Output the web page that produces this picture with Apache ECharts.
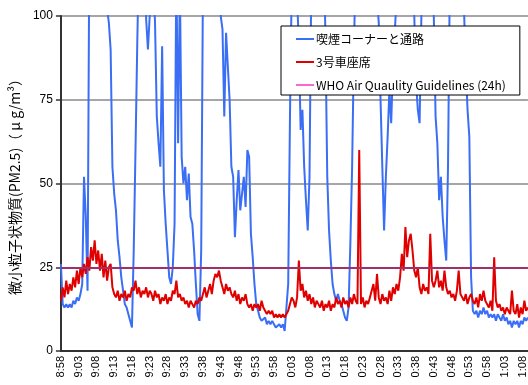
<!DOCTYPE html>
<html>
<head>
<meta charset="utf-8">
<script src="https://cdn.jsdelivr.net/npm/echarts@6/dist/echarts.min.js"></script>
<style>
  html, body { margin: 0; padding: 0; background: #ffffff; }
  #chart { width: 528px; height: 385px; }
</style>
</head>
<body>
<div id="chart"></div>
<script>
// PM2.5 readings, one sample every 30 seconds starting at 8:58
const SERIES_NAMES = ['喫煙コーナーと通路', '3号車座席', 'WHO Air Quaulity Guidelines (24h)'];

// Tick labels, one every 5 minutes (every 10 samples)
const TICK_LABELS = ['8:58', '9:03', '9:08', '9:13', '9:18', '9:23', '9:28', '9:33', '9:38',
  '9:43', '9:48', '9:53', '9:58', '0:03', '0:08', '0:13', '0:18', '0:23', '0:28', '0:33',
  '0:38', '0:43', '0:48', '0:53', '0:58', '1:03', '1:08'];
const SAMPLES_PER_TICK = 10;

// Smoking corner and aisle (µg/m³)
const smokingCorner = [
  26, 14, 13, 14, 13, 14, 13, 15, 14, 16,
  15, 17, 20, 52, 40, 18, 120, 130, 140, 150,
  150, 140, 140, 150, 140, 130, 102, 98, 90, 55,
  47, 42, 33, 28, 22, 18, 14, 13, 11, 9,
  7, 30, 60, 92, 120, 140, 150, 130, 99, 90,
  100, 115, 110, 98, 70, 62, 55, 91, 48, 38,
  30, 22, 20, 25, 38, 115, 62, 110, 58, 50,
  55, 45, 53, 40, 38, 30, 20, 11, 9, 30,
  110, 130, 150, 150, 140, 150, 140, 130, 140, 120,
  100, 96, 70, 95, 85, 75, 55, 52, 34, 45,
  54, 42, 47, 52, 43, 60, 58, 35, 28, 20,
  14, 12, 10, 9, 9, 10, 8, 9, 8, 9,
  8, 7, 7, 8, 7, 8, 6, 6, 20, 70,
  110, 110, 120, 105, 92, 66, 72, 55, 45, 36,
  52, 110, 130, 140, 150, 140, 130, 140, 125, 92,
  52, 36, 27, 20, 17, 15, 17, 15, 14, 12,
  10, 9, 13, 32, 55, 90, 115, 130, 140, 150,
  140, 130, 140, 150, 140, 130, 120, 110, 105, 98,
  75, 55, 36, 52, 64, 78, 68, 85, 95, 105,
  120, 130, 140, 130, 120, 130, 120, 110, 105, 100,
  80, 72, 68, 100, 115, 130, 140, 130, 120, 105,
  100, 70, 62, 45, 52, 40, 33, 27, 55, 110,
  130, 140, 150, 140, 130, 120, 110, 102, 85, 72,
  64, 22, 12, 11, 12, 10, 12, 11, 13, 11,
  12, 10, 11, 10, 11, 9, 11, 10, 9, 11,
  9, 10, 8, 9, 7, 9, 8, 9, 7, 9,
  8, 10, 9, 10
];

// Car 3 seats (µg/m³)
const car3Seats = [
  15, 19, 16, 21, 17, 20, 18, 22, 19, 24,
  20, 25, 22, 26, 23, 28, 24, 31, 27, 33,
  26, 30, 24, 29, 22, 27, 21, 25, 26, 19,
  17, 16, 18, 15, 17, 16, 18, 15, 17, 16,
  19, 18, 21, 17, 19, 16, 18, 17, 19, 16,
  18, 17, 15, 18, 16, 17, 14, 16, 15, 17,
  14, 16, 15, 18, 17, 21, 16, 17, 15, 16,
  14, 15, 13, 15, 14, 13, 15, 14, 16, 15,
  17, 19, 16, 18, 20, 17, 21, 23, 22, 24,
  21, 19, 17, 20, 18, 19, 17, 16, 18, 15,
  17, 14, 16, 15, 17, 14, 13, 14, 12, 14,
  13, 14, 12, 15, 13, 12, 11, 12, 11, 12,
  10, 11, 10, 11, 10, 11, 10, 11, 12, 14,
  16, 15, 13, 16, 27, 18, 20, 16, 18, 15,
  17, 14, 16, 13, 15, 14, 13, 15, 12, 14,
  13, 15, 12, 14, 13, 16, 14, 15, 13, 16,
  14, 15, 13, 16, 14, 17, 15, 14, 60, 14,
  16, 13, 15, 14, 16, 18, 20, 15, 23, 16,
  14, 17, 15, 16, 14, 18, 15, 19, 17, 20,
  18, 22, 29, 24, 37, 28, 33, 35, 30, 24,
  22, 25, 19, 17, 20, 18, 19, 17, 35, 21,
  19, 21, 24, 19, 21, 18, 24, 19, 17, 18,
  16, 17, 15, 18, 24, 17, 16, 15, 17, 14,
  16, 17, 15, 14, 16, 13, 17, 15, 18, 15,
  14, 13, 15, 12, 28, 15, 13, 14, 12, 13,
  11, 13, 12, 11, 18, 12, 11, 14, 10, 13,
  11, 15, 12, 13
];

// WHO 24-hour guideline value (µg/m³)
const WHO_GUIDELINE = 25;

// Y axis range
const Y_MIN = 0, Y_MAX = 100, Y_STEP = 25;

const sampleIndex = smokingCorner.map((_, i) => String(i));

const chart = echarts.init(document.getElementById('chart'), null, { renderer: 'canvas' });

chart.setOption({
  animation: false,
  backgroundColor: '#ffffff',
  grid: { left: 53, right: 0, top: 16, bottom: 34, containLabel: false },
  legend: {
    orient: 'vertical',
    left: 281,
    top: 26,
    padding: [6, 14, 3, 15],
    itemGap: 9,
    itemWidth: 18,
    itemHeight: 2,
    icon: 'rect',
    backgroundColor: '#ffffff',
    borderColor: '#000000',
    borderWidth: 1,
    textStyle: { fontFamily: 'Noto Sans CJK JP', fontSize: 12, color: '#000000', lineHeight: 14, padding: [0, 0, 0, -3] },
    data: [
      { name: SERIES_NAMES[0] },
      { name: SERIES_NAMES[1] },
      { name: SERIES_NAMES[2], itemStyle: { color: '#ff66cc' } }
    ]
  },
  xAxis: {
    type: 'category',
    boundaryGap: false,
    data: sampleIndex,
    axisLine: { show: true, lineStyle: { color: '#333333', width: 2 } },
    axisTick: { show: false },
    splitLine: { show: false },
    axisLabel: {
      interval: SAMPLES_PER_TICK - 1,
      rotate: 90,
      margin: 5,
      fontFamily: 'Liberation Sans',
      fontSize: 11,
      color: '#000000',
      formatter: (value, index) => TICK_LABELS[Math.round(index / SAMPLES_PER_TICK)] || ''
    }
  },
  yAxis: {
    type: 'value',
    min: Y_MIN,
    max: Y_MAX,
    interval: Y_STEP,
    name: '微小粒子状物質(PM2.5)（ μ g/m³）',
    nameLocation: 'middle',
    nameRotate: 90,
    nameGap: 33,
    nameTextStyle: { fontFamily: 'Noto Sans CJK JP', fontSize: 14, color: '#000000' },
    axisLine: { show: true, lineStyle: { color: '#333333', width: 2 } },
    axisTick: { show: true, length: 5, lineStyle: { color: '#333333', width: 1.5 } },
    axisLabel: { margin: 8, fontFamily: 'Liberation Sans', fontSize: 12, color: '#000000' },
    splitLine: { show: true, lineStyle: { color: '#888888', width: 1.5 } }
  },
  series: [
    {
      name: SERIES_NAMES[0],
      type: 'line',
      data: smokingCorner,
      showSymbol: false,
      symbol: 'none',
      clip: true,
      color: '#3a6ef5',
      lineStyle: { color: '#3a6ef5', width: 2 }
    },
    {
      name: SERIES_NAMES[1],
      type: 'line',
      data: car3Seats,
      showSymbol: false,
      symbol: 'none',
      clip: true,
      color: '#e00000',
      lineStyle: { color: '#e00000', width: 2 }
    },
    {
      name: SERIES_NAMES[2],
      type: 'line',
      data: [],
      color: '#ff66cc',
      markLine: {
        silent: true,
        symbol: ['none', 'none'],
        label: { show: false },
        lineStyle: { color: '#a0306a', width: 2, type: 'solid' },
        data: [{ yAxis: WHO_GUIDELINE }]
      }
    }
  ]
});
</script>
</body>
</html>
